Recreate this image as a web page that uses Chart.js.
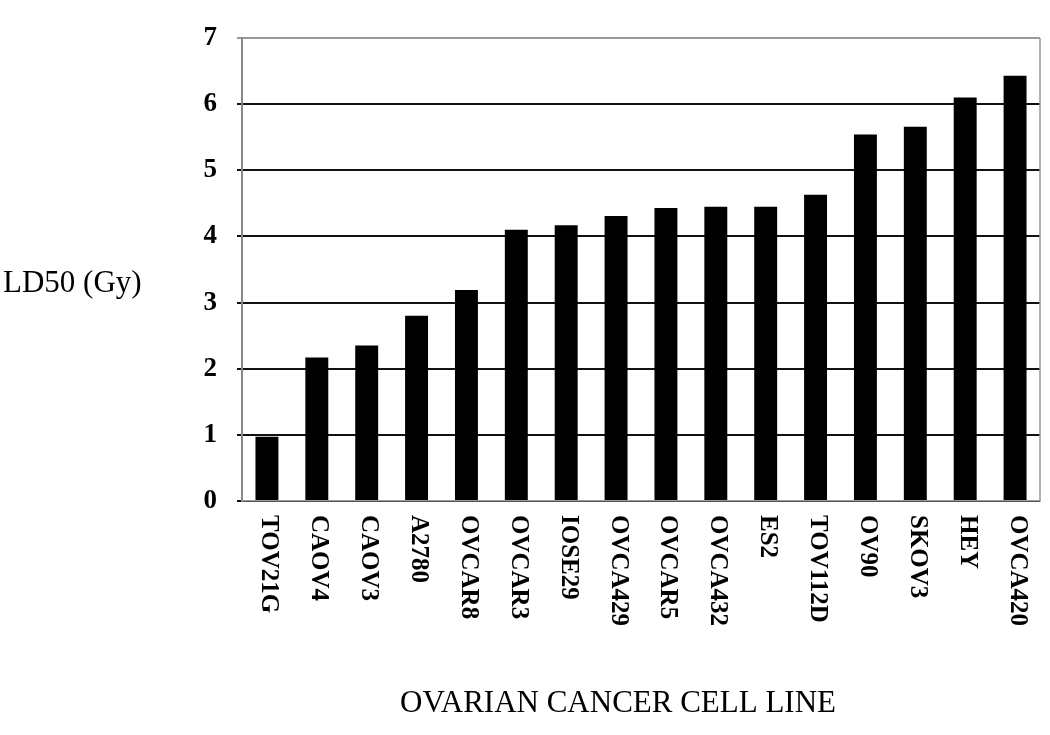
<!DOCTYPE html>
<html>
<head>
<meta charset="utf-8">
<script src="https://cdn.jsdelivr.net/npm/chart.js@4"></script>
<style>
  html, body { margin: 0; padding: 0; background: #fff; }
  #wrap { width: 1050px; height: 735px; }
</style>
</head>
<body>
<div id="wrap"><canvas id="ld50-chart"></canvas></div>
<script>
const cellLines = [
    'TOV21G', 'CAOV4', 'CAOV3', 'A2780', 'OVCAR8', 'OVCAR3', 'IOSE29', 'OVCA429',
    'OVCAR5', 'OVCA432', 'ES2', 'TOV112D', 'OV90', 'SKOV3', 'HEY', 'OVCA420',
];
const ld50Values = [
    0.97, 2.17, 2.35, 2.80, 3.19, 4.10, 4.17, 4.31,
    4.43, 4.45, 4.45, 4.63, 5.54, 5.66, 6.10, 6.43,
];
const yTicks = [0, 1, 2, 3, 4, 5, 6, 7];
const yTitle = 'LD50 (Gy)';
const xTitle = 'OVARIAN CANCER CELL LINE';

const serif = '"Liberation Serif", "Times New Roman", serif';

// labels read top-to-bottom and free-standing axis titles
const textPlugin = {
    id: 'textPlugin',
    afterDraw(chart) {
        const ctx = chart.ctx;
        const area = chart.chartArea;
        const xScale = chart.scales.x;
        ctx.save();
        // right border
        ctx.strokeStyle = '#999';
        ctx.lineWidth = 1.5;
        ctx.beginPath();
        ctx.moveTo(area.right, area.top);
        ctx.lineTo(area.right, area.bottom);
        ctx.stroke();

        ctx.fillStyle = '#000';
        ctx.font = 'bold 25px ' + serif;
        ctx.textAlign = 'left';
        ctx.textBaseline = 'middle';
        cellLines.forEach((name, i) => {
            const x = xScale.getPixelForTick(i) + 2;
            ctx.save();
            ctx.translate(x, area.bottom + 14);
            ctx.rotate(Math.PI / 2);
            ctx.fillText(name, 0, 0);
            ctx.restore();
        });

        ctx.font = '31px ' + serif;
        ctx.textAlign = 'left';
        ctx.fillText(yTitle, 3, 284);
        ctx.textAlign = 'center';
        ctx.fillText(xTitle, 618, 704);
        ctx.restore();
    }
};

const ld50Chart = new Chart(document.getElementById('ld50-chart'), {
    type: 'bar',
    data: {
        labels: cellLines,
        datasets: [{
            data: ld50Values,
            backgroundColor: '#000',
            borderWidth: 0,
            barPercentage: 0.92,
            categoryPercentage: 0.5,
        }]
    },
    options: {
        responsive: true,
        maintainAspectRatio: false,
        animation: false,
        layout: { padding: { top: 38, right: 10, left: 0, bottom: 0 } },
        plugins: {
            legend: { display: false },
            tooltip: { enabled: false },
        },
        scales: {
            x: {
                grid: { display: false },
                border: { color: '#999', width: 1.5 },
                ticks: { display: false },
                afterFit(scale) { scale.height = 234; },
            },
            y: {
                min: 0,
                max: 7,
                afterBuildTicks(scale) { scale.ticks = yTicks.map(v => ({ value: v })); },
                grid: {
                    color: ctx => (ctx.tick && ctx.tick.value === 7) ? '#999' : '#111',
                    lineWidth: 2,
                    tickLength: 5,
                },
                border: { color: '#888', width: 2 },
                ticks: {
                    color: '#000',
                    padding: 20,
                    font: { family: serif, size: 27, weight: 'bold' },
                },
                afterFit(scale) { scale.width = 242; },
            }
        }
    },
    plugins: [textPlugin],
});
</script>
</body>
</html>
